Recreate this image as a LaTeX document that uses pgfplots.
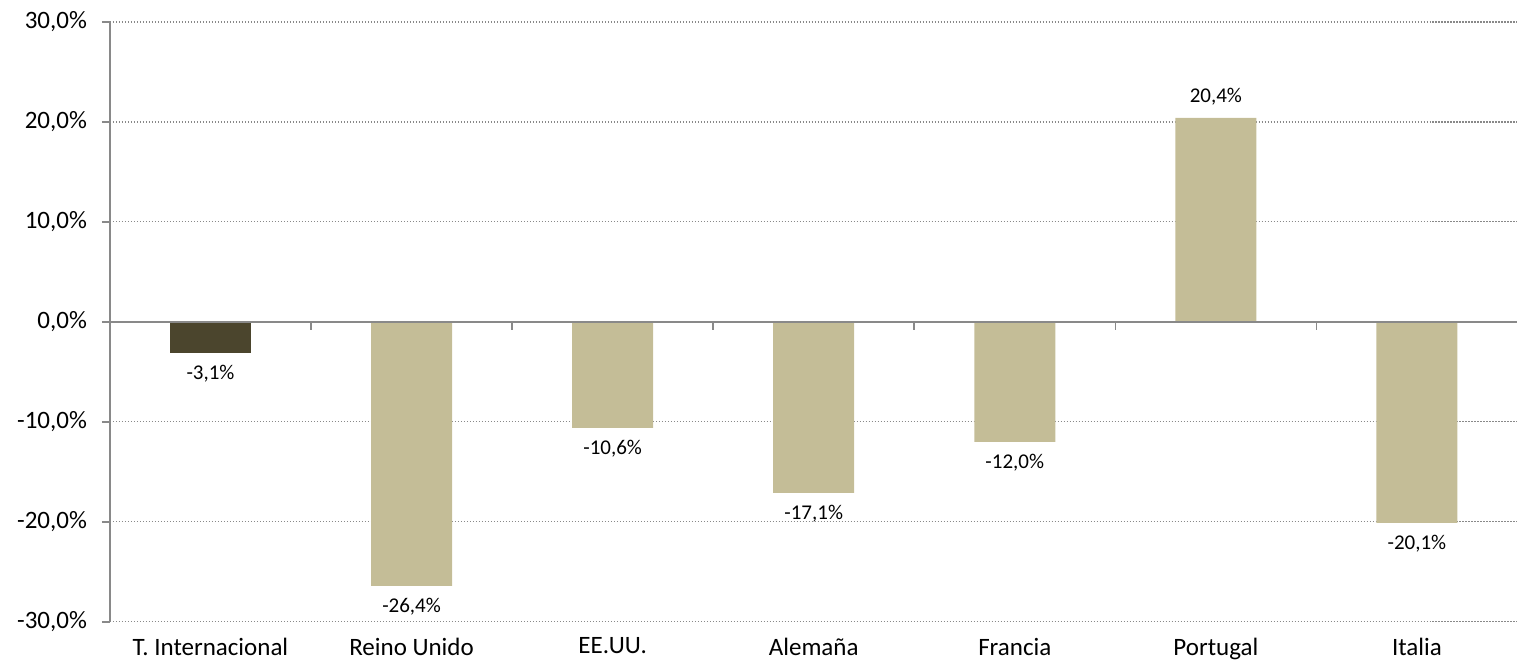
\documentclass[border=0pt]{standalone}
\usepackage{fontspec}
\setmainfont{Carlito}
\usepackage{pgfplots}
\pgfplotsset{compat=1.18}
\definecolor{darkbar}{HTML}{4B452D}
\definecolor{lightbar}{HTML}{C4BD97}
\definecolor{axg}{HTML}{898989}
\begin{document}
\begin{tikzpicture}
\begin{axis}[
  scale only axis, width=704pt, height=300pt,
  xmin=-0.5, xmax=6.5, ymin=-30, ymax=30,
  ybar, bar width=40.5pt,
  ytick={-30,-20,...,30},
  yticklabels={{-30,0\%},{-20,0\%},{-10,0\%},{0,0\%},{10,0\%},{20,0\%},{30,0\%}},
  xtick={0,...,6},
  xticklabels={T. Internacional, Reino Unido, EE.UU., Alemaña, Francia, Portugal, Italia},
  axis y line*=left, axis x line*=bottom,
  x axis line style={draw=none},
  y axis line style={axg, line width=0.8pt},
  ymajorgrids, major grid style={axg, line width=0.55pt, dash pattern=on 0.55pt off 0.95pt},
  x tick style={draw=none},
  y tick style={axg, line width=0.8pt},
  tick align=outside, major tick length=4pt,
  ticklabel style={font=\fontsize{12.5}{15}\selectfont},
  yticklabel style={xshift=-4pt},
  xticklabel style={yshift=-0.5pt},
  nodes near coords={\pgfmathprintnumber[fixed,fixed zerofill,precision=1,use comma,assume math mode=true]{\pgfplotspointmeta}\%},
  every node near coord/.append style={font=\fontsize{10.5}{12}\selectfont, inner ysep=6pt, text=black},
]
\addplot[fill=darkbar, draw=none, bar shift=0pt] coordinates {(0,-3.1)};
\addplot[fill=lightbar, draw=none, bar shift=0pt] coordinates {(1,-26.4) (2,-10.6) (3,-17.1) (4,-12.0) (5,20.4) (6,-20.1)};
\draw[axg, line width=0.8pt] (axis cs:-0.5,0) -- (axis cs:6.5,0);
\pgfplotsinvokeforeach{0.5,1.5,2.5,3.5,4.5,5.5}{\draw[axg, line width=0.8pt] (axis cs:#1,0) -- ++(0pt,-4pt);}
\end{axis}
\path (current axis.north east) ++(0pt,11pt);
\path (current axis.south west) ++(-55pt,-22pt);
\end{tikzpicture}
\end{document}
